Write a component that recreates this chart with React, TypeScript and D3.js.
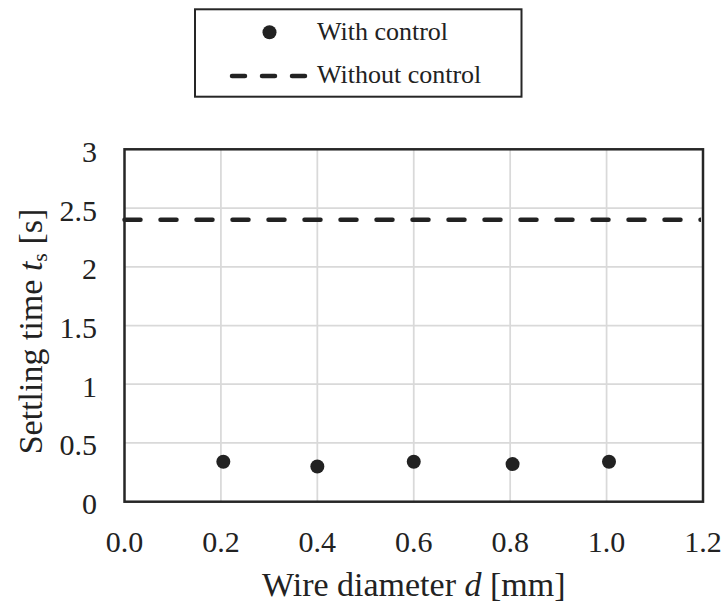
import React from "react";
import * as d3 from "d3";

const diameters = [0.205, 0.4, 0.6, 0.805, 1.005];
const withControl = [0.34, 0.3, 0.34, 0.32, 0.34];
const withoutControlValue = 2.4;
const withoutControlX = [0, 1.2];
const xTicks = [0, 0.2, 0.4, 0.6, 0.8, 1.0, 1.2];
const yTicks = [0, 0.5, 1, 1.5, 2, 2.5, 3];
const legendLabels = ["With control", "Without control"];

const W = 726;
const H = 607;
const M = { left: 124.5, right: 703, top: 149.3, bottom: 501.7 };
const FONT = "Liberation Serif, Times New Roman, serif";
const INK = "#222";

export default function App() {
  const x = d3.scaleLinear().domain([0, 1.2]).range([M.left, M.right]);
  const y = d3.scaleLinear().domain([0, 3]).range([M.bottom, M.top]);
  const dashLine = d3
    .line<number>()
    .x((d) => x(d))
    .y(() => y(withoutControlValue));

  return (
    <svg
      width={W}
      height={H}
      style={{ position: "absolute", left: 0, top: 0, background: "#fff" }}
      fontFamily={FONT}
    >
      <defs>
        <clipPath id="plotClip">
          <rect x={M.left - 3} y={M.top} width={M.right - M.left + 1} height={M.bottom - M.top} />
        </clipPath>
      </defs>
      <rect x={0} y={0} width={W} height={H} fill="#fff" />
      {/* gridlines */}
      {xTicks.slice(1, -1).map((t) => (
        <line key={"gx" + t} x1={x(t)} x2={x(t)} y1={M.top} y2={M.bottom} stroke="#d9d9d9" strokeWidth={1.75} />
      ))}
      {yTicks.slice(1, -1).map((t) => (
        <line key={"gy" + t} x1={M.left} x2={M.right} y1={y(t)} y2={y(t)} stroke="#d9d9d9" strokeWidth={1.75} />
      ))}
      {/* without control dashed line */}
      <g clipPath="url(#plotClip)">
        <path
          d={dashLine(withoutControlX) || ""}
          fill="none"
          stroke={INK}
          strokeWidth={4.5}
          strokeDasharray="16 20"
          strokeLinecap="round"
        />
      </g>
      {/* plot border */}
      <rect
        x={M.left}
        y={M.top}
        width={M.right - M.left}
        height={M.bottom - M.top}
        fill="none"
        stroke="#262626"
        strokeWidth={2.5}
      />
      {/* points */}
      {diameters.map((d, i) => (
        <circle key={"p" + i} cx={x(d)} cy={y(withControl[i])} r={7} fill={INK} />
      ))}
      {/* y tick labels */}
      {yTicks.map((t) => (
        <text key={"yl" + t} x={97} y={y(t) + 12.5} textAnchor="end" fontSize={30} fill={INK}>
          {String(t)}
        </text>
      ))}
      {/* x tick labels */}
      {xTicks.map((t) => (
        <text key={"xl" + t} x={x(t)} y={552} textAnchor="middle" fontSize={30} fill={INK}>
          {t.toFixed(1)}
        </text>
      ))}
      {/* axis titles */}
      <text x={(M.left + M.right) / 2} y={596} textAnchor="middle" fontSize={34} fill={INK}>
        Wire diameter <tspan fontStyle="italic">d</tspan> [mm]
      </text>
      <text
        transform={`translate(42, ${(M.top + M.bottom) / 2 + 6}) rotate(-90)`}
        textAnchor="middle"
        fontSize={34}
        fill={INK}
      >
        Settling time <tspan fontStyle="italic">t</tspan>
        <tspan fontSize={22} dy={5}>s</tspan>
        <tspan dy={-5}> [s]</tspan>
      </text>
      {/* legend */}
      <rect x={195} y={9.3} width={326.5} height={87.4} fill="#fff" stroke="#262626" strokeWidth={2} />
      <circle cx={269.5} cy={32.3} r={7} fill={INK} />
      <line x1={232} x2={306} y1={76} y2={76} stroke={INK} strokeWidth={4.5} strokeDasharray="13 17" strokeLinecap="round" />
      <text x={317} y={40} fontSize={26} fill={INK}>
        {legendLabels[0]}
      </text>
      <text x={317} y={83} fontSize={26} fill={INK}>
        {legendLabels[1]}
      </text>
    </svg>
  );
}
